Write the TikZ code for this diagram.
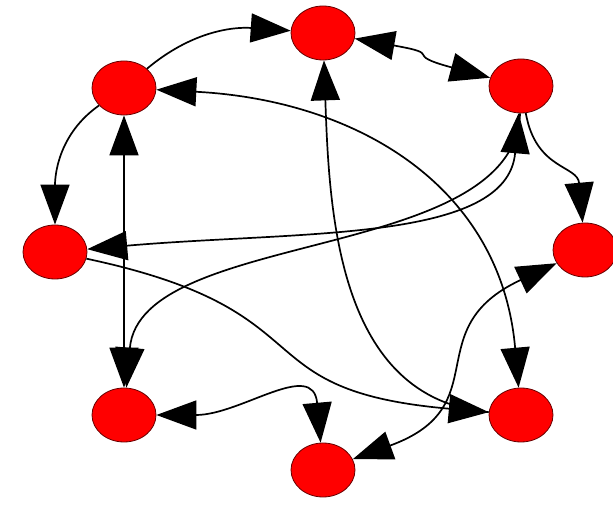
\documentclass[tikz,border=0pt]{standalone}
\usetikzlibrary{shapes.geometric,arrows.meta}
\begin{document}
\begin{tikzpicture}[x=1pt, y=1pt, line width=1.7pt,
        vert/.style={ellipse, fill=red, draw=red!40!black, line width=0.8pt,
            minimum width=64pt, minimum height=54pt, inner sep=0pt},
        >={Triangle[length=40pt,width=29pt]}]
        \useasboundingbox (0,0) rectangle (613,505);
        \foreach \nm/\x/\y in {t/323/472, tl/124/417, tr/521/419, ml/55/253,
                mr/585/255, bl/124/90, br/521/90, b/323/35}
            \node[vert] (\nm) at (\x,\y) {};
        \draw[->] (tl) to[out=40,in=176] (t);
        \draw[->] (tl) to[out=215,in=90] (ml);
        \draw[<->] (tl) -- (bl);
        \draw[<->] (tl) to[out=-3,in=95,looseness=1.1] (br);
        \draw[<->] (t) to[out=-10,in=165,looseness=1.7] (tr);
        \draw[->] (br) to[out=175,in=-88] (t);
        \draw[->] (ml) to[out=-12,in=175,looseness=1.5] (br);
        \draw[<->] (tr) to[out=265,in=5,out distance=130pt,in distance=213pt] (ml);
        \draw[->] (tr) to[out=268,in=85,out distance=150pt,in distance=160pt] (bl);
        \draw[->] (tr) to[out=-80,in=95,looseness=1.2] (mr);
        \draw[<->] (b) to[out=20,in=205,looseness=1.4] (mr);
        \draw[<->] (bl) to[out=0,in=95,looseness=1.3] (b);
    \end{tikzpicture}
\end{document}
